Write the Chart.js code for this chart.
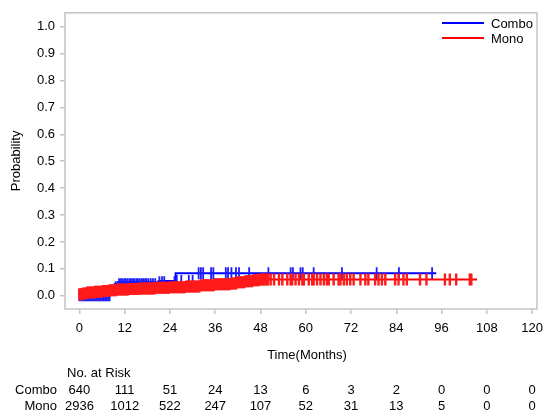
<!DOCTYPE html>
<html><head><meta charset="utf-8">
<script src="https://cdn.jsdelivr.net/npm/chart.js@4.4.1/dist/chart.umd.min.js"></script>
<style>html,body{margin:0;padding:0;background:#fff}</style>
</head><body>
<canvas id="c" width="550" height="413"></canvas>
<script>
// ---- data ----
const xTicks = [0, 12, 24, 36, 48, 60, 72, 84, 96, 108, 120];
const yTicks = [0, 0.1, 0.2, 0.3, 0.4, 0.5, 0.6, 0.7, 0.8, 0.9, 1.0];
const seriesNames = ['Combo', 'Mono'];

const comboTimes = [0, 8.3, 9.3, 10.2, 21.0, 25.5, 30.5];
const comboProb  = [0.002, 0.018, 0.032, 0.043, 0.050, 0.055, 0.084];
const comboEnd = 94.6;

const monoTimes = [0, 1, 2, 4, 6, 8, 10, 13, 16, 20, 24, 28, 32, 36, 40, 41.8, 44, 46, 47.6];
const monoProb  = [0.006, 0.009, 0.012, 0.015, 0.018, 0.021, 0.023, 0.025, 0.027, 0.030, 0.032, 0.035, 0.039, 0.043, 0.046, 0.050, 0.054, 0.058, 0.061];
const monoEnd = 105.4;

const comboCensor = [0.0,0.4,0.8,1.2,1.6,2.0,2.4,2.8,3.2,3.6,4.0,4.4,4.8,5.2,5.6,6.0,6.4,6.8,7.2,7.6,8.0,
  9.6,10.1,10.5,11.0,11.4,11.9,12.3,12.8,13.3,13.7,14.2,14.6,15.1,15.5,16.0,16.5,16.9,17.4,17.8,18.3,18.9,19.5,20.1,
  21.2,21.9,22.5,25.2,25.8,27.0,29.0,30.0,
  31.6,32.2,32.8,34.9,35.5,38.8,39.4,40.3,41.5,42.3,45.0,50.1,56.0,56.6,58.6,59.2,62.1,69.6,78.8,84.7,93.5];

const monoCensor = [0.0,0.3,0.6,1.0,1.3,1.7,2.0,2.4,2.7,3.1,3.4,3.8,4.1,4.5,4.8,5.2,5.5,5.9,6.2,6.6,6.9,7.3,7.6,8.0,8.3,8.7,9.0,9.4,9.7,
  10.1,10.4,10.8,11.1,11.5,11.8,12.2,12.5,12.9,13.2,13.6,13.9,14.3,14.6,15.0,15.3,15.7,16.0,16.4,16.7,17.1,17.4,17.8,18.1,18.5,18.8,19.2,19.5,19.9,
  20.2,20.6,20.9,21.3,21.6,22.0,22.3,22.7,23.0,23.4,23.7,24.1,24.4,24.8,25.1,25.5,25.8,26.2,26.5,26.9,27.2,27.6,27.9,28.3,28.6,29.0,29.3,29.7,
  30.0,30.4,30.7,31.1,31.4,31.8,32.1,32.5,32.8,33.2,33.5,33.9,34.2,34.6,34.9,35.3,35.6,36.0,36.3,36.7,37.0,37.4,37.7,38.1,38.4,38.8,39.1,39.5,39.8,
  40.2,40.5,40.9,41.2,41.6,41.9,42.3,42.6,43.0,43.3,43.7,44.0,44.4,44.7,45.1,45.4,45.8,46.1,46.5,46.8,47.2,47.5,47.9,48.2,48.6,48.9,49.3,49.6,50.0,
  50.7,51.6,52.9,53.8,55.1,56.0,56.4,57.3,58.2,59.1,59.5,60.8,61.7,62.1,63.0,63.9,64.8,65.6,66.1,67.4,68.7,69.2,70.1,70.9,71.8,72.7,
  74.5,75.8,76.6,78.4,79.3,80.2,81.1,83.7,84.6,85.9,86.8,90.3,92.0,96.9,98.2,99.9,103.5,103.9];

const riskCombo = [640, 111, 51, 24, 13, 6, 3, 2, 0, 0, 0];
const riskMono  = [2936, 1012, 522, 247, 107, 52, 31, 13, 5, 0, 0];

// ---- helpers (build library data from arrays) ----
function stepPoints(times, probs, end) {
  const pts = times.map((t, i) => ({x: t, y: probs[i]}));
  pts.push({x: end, y: probs[probs.length - 1]});
  return pts;
}
function stepAt(times, probs, t) {
  let v = probs[0];
  for (let i = 0; i < times.length; i++) if (times[i] <= t) v = probs[i];
  return v;
}
function censorPoints(cens, times, probs) {
  return cens.map(t => ({x: t, y: stepAt(times, probs, t)}));
}

const BLUE = '#0000ff', RED = '#ff0000';
const FONT = '"Liberation Sans", Arial, sans-serif';

const overlay = {
  id: 'overlay',
  afterDraw(chart) {
    const ctx = chart.ctx, a = chart.chartArea, xs = chart.scales.x;
    ctx.save();
    // frame
    ctx.strokeStyle = '#c4c4c4';
    ctx.lineWidth = 1.5;
    ctx.strokeRect(a.left, a.top, a.right - a.left, a.bottom - a.top);
    // legend
    ctx.lineWidth = 2;
    const legY = [23, 38];
    const legCol = [BLUE, RED];
    ctx.font = '13px ' + FONT;
    ctx.fillStyle = '#000';
    ctx.textBaseline = 'middle';
    ctx.textAlign = 'left';
    for (let i = 0; i < 2; i++) {
      ctx.strokeStyle = legCol[i];
      ctx.beginPath(); ctx.moveTo(442, legY[i]); ctx.lineTo(484, legY[i]); ctx.stroke();
      ctx.fillText(seriesNames[i], 491, legY[i] + 1);
    }
    // axis titles
    ctx.textAlign = 'center';
    ctx.fillText('Time(Months)', 307, 355);
    ctx.save();
    ctx.translate(16, (a.top + a.bottom) / 2);
    ctx.rotate(-Math.PI / 2);
    ctx.fillText('Probability', 0, 0);
    ctx.restore();
    // risk table
    ctx.textAlign = 'left';
    ctx.fillText('No. at Risk', 67, 373);
    ctx.textAlign = 'right';
    ctx.fillText(seriesNames[0], 57, 390);
    ctx.fillText(seriesNames[1], 57, 406);
    ctx.textAlign = 'center';
    xTicks.forEach((t, i) => {
      const px = xs.getPixelForValue(t);
      ctx.fillText(String(riskCombo[i]), px, 390);
      ctx.fillText(String(riskMono[i]), px, 406);
    });
    ctx.restore();
  }
};

new Chart(document.getElementById('c'), {
  type: 'scatter',
  data: {
    datasets: [
      { label: 'Mono censor', data: censorPoints(monoCensor, monoTimes, monoProb), showLine: false,
        pointStyle: 'line', rotation: 90, pointRadius: 6, borderWidth: 2.4,
        borderColor: '#ff1a1a', backgroundColor: '#ff1a1a', order: 0 },
      { label: 'Mono', data: stepPoints(monoTimes, monoProb, monoEnd), showLine: true, stepped: 'after',
        borderColor: RED, borderWidth: 2, pointRadius: 0, order: 1 },
      { label: 'Combo censor', data: censorPoints(comboCensor, comboTimes, comboProb), showLine: false,
        pointStyle: 'line', rotation: 90, pointRadius: 6, borderWidth: 1.8,
        borderColor: '#1a1aff', backgroundColor: '#1a1aff', order: 2 },
      { label: 'Combo', data: stepPoints(comboTimes, comboProb, comboEnd), showLine: true, stepped: 'after',
        borderColor: BLUE, borderWidth: 2, pointRadius: 0, order: 3 }
    ]
  },
  options: {
    responsive: false,
    animation: false,
    layout: { padding: { left: 0, right: 11, top: 10, bottom: 0 } },
    plugins: { legend: { display: false }, tooltip: { enabled: false } },
    scales: {
      x: {
        type: 'linear', min: -3.83, max: 121.3,
        afterBuildTicks: s => { s.ticks = xTicks.map(v => ({value: v})); },
        afterFit: s => { s.height = 104; },
        grid: { drawOnChartArea: false, drawTicks: true, tickLength: 5, color: '#c4c4c4', lineWidth: 1.5 },
        border: { display: false },
        ticks: { color: '#000', font: { size: 13, family: FONT }, padding: 7, maxRotation: 0, autoSkip: false,
          callback: v => String(v) }
      },
      y: {
        type: 'linear', min: -0.049, max: 1.0515,
        afterBuildTicks: s => { s.ticks = yTicks.map(v => ({value: v})); },
        afterFit: s => { s.width = 65; },
        grid: { drawOnChartArea: false, drawTicks: true, tickLength: 5, color: '#c4c4c4', lineWidth: 1.5 },
        border: { display: false },
        ticks: { color: '#000', font: { size: 13, family: FONT }, padding: 5, autoSkip: false,
          callback: v => Number(v).toFixed(1) }
      }
    }
  },
  plugins: [overlay]
});
</script>
</body></html>
